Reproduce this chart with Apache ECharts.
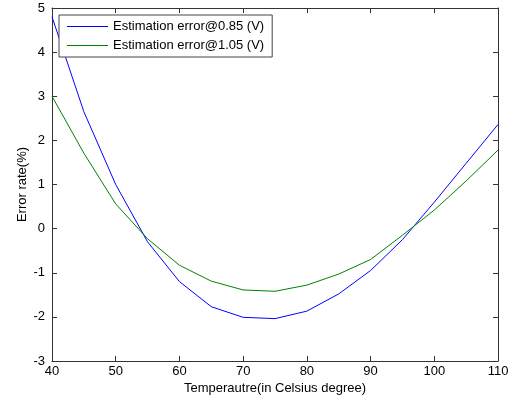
<!DOCTYPE html>
<html>
<head>
<meta charset="utf-8">
<script src="https://cdn.jsdelivr.net/npm/echarts@6/dist/echarts.min.js"></script>
<style>
  html, body { margin: 0; padding: 0; background: #fff; }
  #chart { width: 513px; height: 404px; }
</style>
</head>
<body>
<div id="chart"></div>
<script>
let temps = [40, 45, 50, 55, 60, 65, 70, 75, 80, 85, 90, 95, 100, 105, 110];
let err085 = [4.8, 2.65, 1.0, -0.3, -1.2, -1.77, -2.01, -2.04, -1.87, -1.48, -0.95, -0.25, 0.6, 1.48, 2.36];
let err105 = [3.0, 1.71, 0.56, -0.23, -0.83, -1.19, -1.39, -1.42, -1.28, -1.03, -0.7, -0.15, 0.42, 1.08, 1.78];
let names = ['Estimation error@0.85 (V)', 'Estimation error@1.05 (V)'];

let font = 'Liberation Sans, Arial, sans-serif';
let axisCol = '#333';

function pairs(ys) {
  return temps.map((t, i) => [t, ys[i]]);
}

let chart = echarts.init(document.getElementById('chart'));

let baseX = {
  type: 'value', min: 40, max: 110, interval: 10,
  axisLine: { show: true, onZero: false, lineStyle: { color: axisCol, width: 1 } },
  axisTick: { show: true, inside: true, length: 5, lineStyle: { color: axisCol } },
  splitLine: { show: false }
};
let baseY = {
  type: 'value', min: -3, max: 5, interval: 1,
  axisLine: { show: true, onZero: false, lineStyle: { color: axisCol, width: 1 } },
  axisTick: { show: true, inside: true, length: 5, lineStyle: { color: axisCol } },
  splitLine: { show: false }
};

chart.setOption({
  animation: false,
  textStyle: { fontFamily: font },
  grid: { left: 52, top: 8, right: 15, bottom: 43, containLabel: false },
  legend: {
    orient: 'vertical',
    left: 59, top: 15,
    data: names,
    icon: 'rect',
    itemWidth: 41, itemHeight: 1,
    itemGap: 6,
    padding: [5, 8, 5, 8],
    borderColor: '#444', borderWidth: 1,
    backgroundColor: '#fff',
    textStyle: { fontSize: 13, color: '#000', fontFamily: font }
  },
  xAxis: [
    Object.assign({}, baseX, {
      position: 'bottom',
      name: 'Temperautre(in Celsius degree)',
      nameLocation: 'middle', nameGap: 21, nameMoveOverlap: false,
      nameTextStyle: { fontSize: 13, color: '#000' },
      axisLabel: { show: true, fontSize: 13, color: '#000', margin: 4 }
    }),
    Object.assign({}, baseX, { position: 'top', axisLabel: { show: false } })
  ],
  yAxis: [
    Object.assign({}, baseY, {
      position: 'left',
      name: 'Error rate(%)',
      nameLocation: 'middle', nameGap: 23, nameMoveOverlap: false,
      nameTextStyle: { fontSize: 13, color: '#000' },
      axisLabel: { show: true, fontSize: 13, color: '#000', margin: 7 }
    }),
    Object.assign({}, baseY, { position: 'right', axisLabel: { show: false } })
  ],
  series: [
    {
      name: names[0], type: 'line', xAxisIndex: 0, yAxisIndex: 0,
      data: pairs(err085), symbol: 'none',
      lineStyle: { color: '#0000ff', width: 1 }, itemStyle: { color: '#0000ff' }
    },
    {
      name: names[1], type: 'line', xAxisIndex: 0, yAxisIndex: 0,
      data: pairs(err105), symbol: 'none',
      lineStyle: { color: '#008000', width: 1 }, itemStyle: { color: '#008000' }
    }
  ]
});
</script>
</body>
</html>
